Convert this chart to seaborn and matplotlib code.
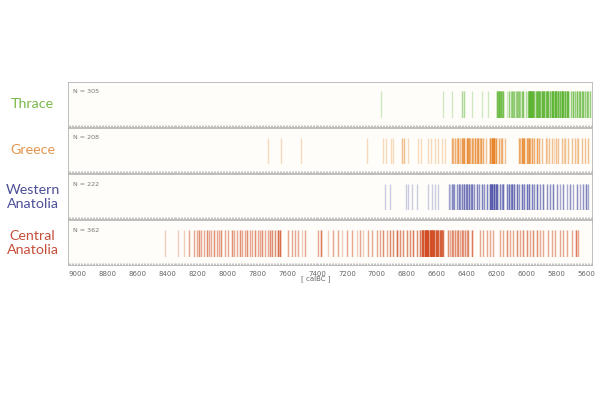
import numpy as np
import pandas as pd
import seaborn as sns
import matplotlib.pyplot as plt
from matplotlib.ticker import MultipleLocator

thrace_dates = [6972, 6555, 6494, 6427, 6414, 6365, 6294, 6253,
                6198, 6190, 6182, 6175, 6169, 6160, 6153,
                6130, 6113, 6105, 6097, 6088, 6079, 6070, 6064, 6055, 6048, 6040, 6030, 6019,
                6000, 5990, 5981, 5975, 5968, 5961, 5955, 5945,
                5937, 5930, 5922, 5914, 5905, 5897, 5888, 5879, 5870, 5863, 5852,
                5840, 5830, 5820, 5807, 5798, 5785, 5775, 5763, 5752, 5740, 5730, 5718,
                5700, 5685, 5675, 5662, 5650, 5640, 5630, 5618, 5605, 5595, 5585, 5575]
thrace_counts = [1, 1, 1, 2, 2, 1, 1, 1,
                 5, 3, 6, 3, 5, 2, 5,
                 1, 3, 2, 3, 2, 3, 2, 3, 2, 3, 2, 3, 4,
                 2, 3, 9, 7, 9, 6, 7, 3,
                 4, 6, 4, 7, 4, 8, 4, 7, 4, 7, 5,
                 5, 9, 7, 10, 8, 9, 7, 10, 7, 8, 6, 7,
                 3, 5, 3, 5, 3, 4, 3, 4, 3, 4, 2, 3]

greece_dates = [7726, 7641, 7509, 7063, 6960, 6938, 6905, 6894, 6833, 6818, 6793, 6722, 6706,
                6659, 6637, 6610, 6588, 6561, 6543,
                6499, 6490, 6476, 6465, 6454, 6443, 6432, 6423, 6414, 6398, 6390, 6383, 6375,
                6365, 6355, 6342, 6332, 6320, 6310, 6302, 6287, 6271,
                6242, 6231, 6222, 6215, 6202, 6182, 6172, 6164, 6142,
                6048, 6040, 6030, 6020, 6012, 5997, 5990, 5981, 5972, 5963, 5945, 5930, 5914,
                5892, 5870, 5860, 5847, 5825, 5815, 5802, 5785, 5762, 5750, 5740, 5718, 5695,
                5673, 5660, 5651, 5628, 5606, 5584]
greece_counts = [1, 1, 1, 1, 1, 1, 1, 1, 2, 2, 1, 1, 1,
                 1, 1, 1, 1, 1, 1,
                 3, 2, 3, 2, 4, 2, 4, 3, 5, 6, 3, 4, 2,
                 4, 2, 5, 3, 5, 2, 4, 3, 2,
                 6, 8, 4, 9, 5, 3, 2, 3, 2,
                 3, 2, 5, 3, 5, 4, 2, 5, 2, 4, 3, 4, 3,
                 2, 2, 1, 2, 2, 1, 2, 2, 2, 1, 2, 2, 2,
                 2, 1, 2, 2, 2, 2]

wanat_dates = [6945, 6912, 6807, 6789, 6762, 6733, 6655, 6633, 6610, 6588,
               6517, 6508, 6499, 6490, 6481, 6465, 6450, 6440, 6432, 6414, 6405, 6399,
               6381, 6372, 6365, 6347, 6332, 6316, 6298, 6280, 6265,
               6242, 6235, 6227, 6213, 6205, 6198, 6175, 6165, 6153, 6131, 6115, 6105,
               6097, 6079, 6064, 6048, 6030, 6013, 5997, 5981, 5963, 5946, 5930,
               5908, 5885, 5863, 5841, 5818, 5796, 5774, 5751, 5729, 5707, 5685,
               5662, 5640, 5618, 5602, 5584]
wanat_counts = [1, 1, 1, 1, 1, 1, 1, 1, 1, 1,
                2, 1, 3, 2, 3, 3, 4, 2, 4, 5, 3, 4,
                5, 3, 4, 3, 4, 3, 4, 3, 4,
                6, 4, 7, 9, 5, 6, 4, 2, 5, 4, 5, 3,
                5, 5, 5, 3, 5, 4, 5, 5, 4, 3, 5,
                3, 4, 3, 3, 4, 3, 2, 3, 2, 3, 2,
                3, 2, 3, 4, 2]

canat_dates = [8414, 8333, 8289, 8257,
               8222, 8206, 8191, 8173, 8155, 8139, 8124, 8106, 8088, 8072, 8057, 8039,
               8017, 7994, 7972, 7954, 7938, 7916, 7900, 7883, 7865, 7849, 7834, 7816,
               7798, 7782, 7767, 7749, 7731, 7715, 7700, 7682, 7664, 7648,
               7593, 7570, 7548, 7526, 7503, 7481, 7396, 7370, 7325, 7291, 7262, 7236,
               7202, 7169, 7135, 7113, 7091, 7057, 7035,
               7001, 6979, 6956, 6934, 6912, 6889, 6867, 6845, 6822, 6800, 6778, 6755,
               6733, 6711, 6700, 6689, 6680, 6673, 6664, 6655, 6646, 6637, 6628, 6622,
               6614, 6606, 6597, 6588, 6579, 6570, 6562, 6555,
               6521, 6510, 6499, 6488, 6477, 6466, 6454, 6443, 6432, 6420, 6410, 6398,
               6387, 6361,
               6309, 6287, 6265, 6242, 6220, 6175, 6153, 6131, 6108, 6086, 6064, 6042,
               6019, 5997, 5975, 5952, 5930, 5908, 5885, 5852, 5830, 5807, 5774, 5751,
               5729, 5696, 5667, 5651]
canat_counts = [1, 1, 1, 2,
                2, 2, 3, 2, 2, 3, 2, 2, 3, 2, 2, 3,
                2, 2, 3, 2, 2, 3, 2, 2, 3, 2, 2, 3,
                2, 2, 3, 2, 2, 3, 3, 3, 5, 5,
                2, 2, 2, 2, 1, 2, 2, 4, 1, 2, 2, 1,
                2, 2, 1, 2, 1, 2, 2,
                2, 2, 3, 2, 3, 3, 5, 3, 3, 3, 3, 4,
                3, 4, 6, 7, 8, 8, 7, 8, 6, 8, 6, 7,
                6, 6, 5, 6, 5, 5, 4, 4,
                3, 2, 3, 2, 3, 2, 3, 2, 3, 2, 3, 2,
                3, 4,
                2, 2, 2, 2, 2, 2, 2, 3, 2, 2, 3, 2,
                3, 3, 2, 3, 3, 2, 2, 2, 2, 2, 2, 2,
                2, 2, 4, 2]

region_names = ["Thrace", "Greece", "Western\nAnatolia", "Central\nAnatolia"]
n_values = [305, 208, 222, 362]
line_colors = ["#5cb531", "#e8801f", "#4a50a8", "#d24a20"]
label_colors = ["#7ab84a", "#e4954a", "#4d4f99", "#c6503a"]
x_ticks = list(range(9000, 5599, -200))

all_dates = [thrace_dates, greece_dates, wanat_dates, canat_dates]
all_counts = [thrace_counts, greece_counts, wanat_counts, canat_counts]
df = pd.concat([
    pd.DataFrame({"region": r, "date": np.repeat(d, c)})
    for r, d, c in zip(region_names, all_dates, all_counts)
], ignore_index=True)

sns.set_theme(style="white")
plt.rcParams["font.family"] = ["DejaVu Sans"]

fig, axes = plt.subplots(4, 1, figsize=(5.95, 3.94), dpi=100)
fig.subplots_adjust(left=0.114, right=0.995, top=0.792, bottom=0.327, hspace=0.034)

xlim = (9067, 5560)
for i, ax in enumerate(axes):
    reg = region_names[i]
    ax.set_facecolor("#fefdf9")
    ax.set_xlim(*xlim)
    ax.set_yticks([])
    for sp in ax.spines.values():
        sp.set_color("#b4b4b4")
        sp.set_linewidth(0.6)

    # barcode sits in the middle band of each panel
    inner = ax.inset_axes([0, 0.19, 1, 0.6])
    sns.rugplot(data=df[df["region"] == reg], x="date", height=1, ax=inner,
                color=line_colors[i], alpha=0.28, lw=0.75, expand_margins=False)
    inner.set_xlim(*xlim)
    inner.set_ylim(0, 1)
    inner.set_xticks([])
    inner.set_yticks([])
    inner.set_xlabel("")
    inner.set_ylabel("")
    inner.axis("off")

    ax.text(0.0095, 0.78, "N = %d" % n_values[i], transform=ax.transAxes,
            fontsize=4.6, color="#777777", ha="left", va="center")
    pos = ax.get_position()
    fig.text(0.055, 0.5 * (pos.y0 + pos.y1), reg, ha="center", va="center",
             fontsize=10.3, color=label_colors[i],
             family=["Lato", "DejaVu Sans"], linespacing=1.2)

    ax.set_xticks(x_ticks)
    ax.xaxis.set_minor_locator(MultipleLocator(10))
    ax.tick_params(axis="x", which="both", direction="in", bottom=True,
                   color="#999999", width=0.4, length=1.8)
    ax.tick_params(axis="x", labelsize=5, labelcolor="#666666", pad=4,
                   labelbottom=(i == 3))
    ax.set_xlabel("")

axes[-1].text(0.473, -0.31, "[ calBC ]", transform=axes[-1].transAxes,
              fontsize=5, color="#666666", ha="center", va="center")

fig.savefig("out.png", dpi=100, facecolor="white")
